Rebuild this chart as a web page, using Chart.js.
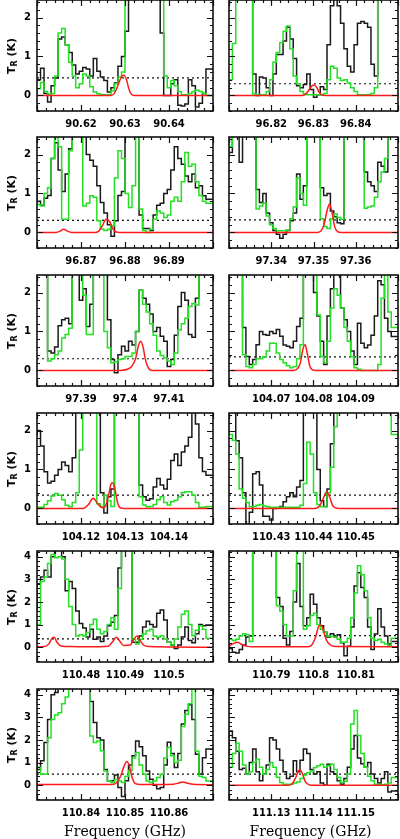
<!DOCTYPE html>
<html>
<head>
<meta charset="utf-8">
<script src="https://cdn.jsdelivr.net/npm/chart.js@4.4.1/dist/chart.umd.min.js"></script>
<style>
  *{box-sizing:border-box;margin:0;padding:0}
  body{background:#fff;width:400px;height:839px;overflow:hidden}
  #wrap{position:relative;width:400px;height:839px;overflow:hidden}
  canvas{position:absolute}
  .ytitle{position:absolute;left:12px;transform:translate(-50%,-50%) rotate(-90deg);white-space:nowrap;font:bold 11px "DejaVu Sans",sans-serif;color:#000}
  .ytitle sub{font-size:8px;vertical-align:-2px}
  .xtitle{position:absolute;top:831px;transform:translate(-50%,-50%);white-space:nowrap;font:14px "DejaVu Serif",serif;color:#000}
</style>
</head>
<body>
<div id="wrap"></div>
<script>
// panel frequency windows (GHz), 0.04 GHz wide each, and tick labels
const freqStart = [90.61, 96.81, 96.86, 97.33, 97.38, 104.06, 104.11, 110.42, 110.47, 110.78, 110.83, 111.12];
const xTicks = [
  [90.62, 90.63, 90.64], [96.82, 96.83, 96.84], [96.87, 96.88, 96.89], [97.34, 97.35, 97.36],
  [97.39, 97.4, 97.41], [104.07, 104.08, 104.09], [104.12, 104.13, 104.14], [110.43, 110.44, 110.45],
  [110.48, 110.49, 110.5], [110.79, 110.8, 110.81], [110.84, 110.85, 110.86], [111.13, 111.14, 111.15]
];
const yTicksLow = [0, 1, 2];
const yTicksHigh = [0, 1, 2, 3, 4];
const rmsLevel = [0.45, 0.3, 0.31, 0.32, 0.3, 0.35, 0.34, 0.34, 0.37, 0.51, 0.49, 0.49];
const span = 0.04;
const nChan = 50;

// observed (black) and comparison (green) spectra, one value per channel; red = model
const black1 = [0.35,0.4,0.7,0.05,-0.17,0.25,0.45,1.45,1.5,1.3, 1.1,0.78,0.55,0.62,0.72,0.68,0.5,0.95,0.62,0.47, 0.38,0.09,0.2,0.32,0.75,1.0,1.65,5,5,5, 5,5,5,5,5,5,1.6,0.0,0.0,0.3, 0.4,-0.25,-0.27,-0.22,0.4,0.25,-0.3,-0.2,0.05,0.68];
const green1 = [0.1,0.17,0.33,0.1,0.03,0.05,0.5,1.6,1.72,1.3, 0.85,0.5,0.2,0.3,0.55,0.5,0.22,0.09,0.04,0.02, 0.02,0.02,0.12,0.3,0.47,0.6,5,5,5,5, 5,5,5,5,5,5,5,0.5,0.2,0.38, 0.25,0.1,0.02,0.02,0.05,0.1,0.13,0.1,0.05,0.0];
const red1 = [[90.61,0],[90.6268,0],[90.6275,0.04],[90.6281,0.17],[90.6287,0.35],[90.6293,0.5],[90.6298,0.52],[90.6304,0.38],[90.6308,0.2],[90.6313,0.05],[90.632,0],[90.65,0]];

const black2 = [5,5,5,5,5,5,5,5,0.55,0.0, 0.47,0.45,0.2,0.0,0.55,1.05,1.05,1.4,1.75,1.45, 0.95,0.25,0.2,0.28,0.55,0.15,-0.05,0.02,0.22,0.15, 1.3,2.3,2.6,2.3,1.85,1.2,0.75,0.6,1.3,1.85, 1.9,1.85,1.75,0.8,0.5,5,5,5,5,5];
const green2 = [0.05,0.4,1.33,5,5,5,5,5,0.04,0.02, 0.02,0.02,0.1,0.4,0.85,1.1,1.35,1.65,1.78,1.2, 0.5,0.3,0.1,0.04,0.02,0.02,0.02,0.02,0.02,0.05, 0.4,0.75,0.7,0.45,0.38,0.4,0.32,0.2,0.1,0.02, 0.02,0.02,0.02,0.05,0.2,5,5,5,5,5];
const red2 = [[96.81,0],[96.8274,0],[96.8282,0.04],[96.829,0.15],[96.8297,0.25],[96.8302,0.27],[96.8308,0.2],[96.8314,0.07],[96.832,0.01],[96.8326,0],[96.85,0]];

const black3 = [1.3,0.8,0.7,0.88,0.95,1.9,2.3,1.6,1.05,1.5, 2.15,5,5,5,5,2.0,1.85,1.7,1.2,0.77, 0.5,0.2,-0.1,0.3,0.95,1.05,5,5,5,5, 0.45,0.1,0.1,0.05,0.45,0.7,0.75,1.0,1.1,1.6, 2.2,1.9,1.75,1.45,1.3,1.5,1.15,1.2,0.94,0.85];
const green3 = [1.0,0.72,0.68,1.0,1.15,1.9,5,2.2,0.34,0.34, 2.1,5,5,5,0.68,0.75,0.94,0.9,0.3,0.09, 0.05,0.08,0.17,1.4,2.1,1.9,1.0,0.64,1.2,5, 0.6,0.05,0.0,0.08,0.34,0.55,0.5,0.38,0.45,0.8, 0.9,0.8,1.3,2.05,1.7,1.75,1.3,0.95,0.8,0.75];
const red3 = [[96.86,0],[96.8643,0],[96.8652,0.03],[96.866,0.08],[96.8668,0.04],[96.8678,0],[96.8733,0],[96.8741,0.04],[96.8749,0.18],[96.8757,0.34],[96.8765,0.28],[96.8772,0.1],[96.878,0.01],[96.8788,0],[96.9,0]];

const black4 = [1.95,2.05,5,5,1.8,5,5,5,5,1.1, 0.77,1.0,0.5,0.25,0.05,-0.05,-0.15,-0.05,0.05,0.3, 0.5,1.5,0.85,1.2,5,5,5,5,1.15,0.95, 1.0,0.55,0.4,0.25,0.22,5,5,5,5,5, 5,1.55,1.3,1.2,1.05,1.8,1.7,1.55,5,5];
const green4 = [1.9,2.2,5,5,5,5,5,5,5,0.6, 0.68,0.75,0.42,0.2,0.1,0.04,0.04,0.04,0.06,0.35, 0.65,1.4,1.0,0.7,5,5,5,5,0.35,0.15, 0.1,0.35,0.47,0.38,0.34,5,5,5,5,5, 5,0.62,0.65,0.68,0.9,1.3,1.55,1.9,5,5];
const red4 = [[97.33,0],[97.3508,0],[97.3517,0.03],[97.3525,0.2],[97.3533,0.6],[97.3538,0.73],[97.3544,0.5],[97.355,0.15],[97.3557,0.02],[97.3566,0],[97.37,0]];

const black5 = [5,5,5,5,0.5,0.45,0.6,1.15,1.3,1.34, 1.2,5,5,1.8,2.1,1.13,1.7,5,5,5, 5,1.3,0.28,-0.06,0.4,0.62,0.5,0.75,0.65,1.0, 2.06,1.85,1.7,1.45,1.0,1.1,0.88,0.75,0.1,0.28, 0.9,1.64,2.0,1.8,0.92,0.85,1.85,5,5,5];
const green5 = [1.85,5,5,5,0.24,0.3,0.4,0.5,0.83,0.92, 1.08,5,5,5,1.93,0.92,0.92,5,5,5, 1.0,0.58,0.2,0.22,0.28,0.3,0.36,0.36,0.45,1.0, 2.06,1.7,1.5,1.2,0.9,0.5,0.38,0.32,0.24,0.15, 0.45,1.04,1.2,1.34,1.64,1.72,1.68,5,5,5];
const red5 = [[97.38,0],[97.399,0],[97.4005,0.03],[97.4015,0.1],[97.4024,0.3],[97.4031,0.65],[97.4036,0.75],[97.4041,0.6],[97.4047,0.25],[97.4054,0.05],[97.4062,0],[97.42,0]];

const black6 = [5,5,5,5,5,1.1,0.36,0.15,0.28,0.66, 1.0,0.92,0.9,1.0,0.95,1.05,0.88,0.65,0.62,0.58, 0.75,1.13,1.34,5,5,5,2.0,1.4,0.75,0.15, 1.4,2.1,5,5,1.6,1.3,1.0,0.5,0.15,1.21, 0.7,0.58,0.65,0.9,1.4,2.3,2.2,1.34,1.0,0.87];
const green6 = [5,5,5,5,5,0.4,0.1,0.07,0.15,0.3, 0.3,0.35,0.5,0.7,0.7,0.45,0.28,0.2,0.12,0.07, 0.1,0.3,0.66,5,5,5,5,1.42,0.36,0.2, 0.75,1.6,2.1,1.93,1.6,1.1,0.75,0.35,0.07,0.03, 0,0,0,0,0,0.15,1.85,5,1.5,1.1];
const red6 = [[104.06,0],[104.0752,0],[104.0762,0.04],[104.0769,0.2],[104.0775,0.55],[104.078,0.66],[104.0785,0.45],[104.0791,0.12],[104.0798,0.01],[104.0806,0],[104.1,0]];

const black7 = [1.87,2.0,1.6,0.94,0.65,0.7,0.85,1.0,1.19,1.1, 0.94,1.3,5,5,5,5,5,5,5,0.4, -0.12,0.3,0.5,5,5,5,5,5,5,5, 0.6,0.3,0.21,0.25,0.55,0.77,0.6,0.5,0.75,1.23, 1.4,1.1,1.45,1.6,1.83,5,2.17,1.3,0.95,0.85];
const green7 = [0.03,0.03,0.03,0.1,0.2,0.32,0.38,0.34,0.22,0.08, 0.04,0.15,0.4,1.5,5,5,5,5,0.12,0.05, 0.34,0.2,0.05,5,5,5,5,5,5,5, 0.3,0.09,0.04,0.05,0.1,0.22,0.3,0.15,0.09,0.17, 0.21,0.3,0.4,0.43,0.43,0.34,0.15,0.03,0.03,0.05];
const red7 = [[104.11,0],[104.1205,0],[104.1217,0.1],[104.1228,0.26],[104.1238,0.12],[104.1248,0.02],[104.1255,0.05],[104.1262,0.3],[104.1268,0.62],[104.1272,0.66],[104.1277,0.5],[104.1283,0.15],[104.129,0.01],[104.1298,0],[104.15,0]];

const black8 = [5,5,5,1.74,1.3,0.4,-0.45,-0.1,0.89,0.94, 0.6,-0.2,-0.2,-0.3,0.0,0.02,0.05,0.17,0.3,0.4, 0.3,0.55,0.72,5,5,5,5,1.0,0.2,0.05, 0.5,1.66,5,5,5,5,5,5,5,5, 5,5,5,5,5,5,5,5,5,5];
const green8 = [5,1.9,1.75,1.4,0.5,0.26,0.15,0.04,0.05,0.08, 0.1,0.06,0.04,0.03,0.03,0.03,0.03,0.03,0.03,0.03, 0.03,0.03,0.08,0.64,1.7,1.4,0.4,0.1,0.04,0.04, 0.4,1.06,2.1,5,5,5,5,5,5,5, 5,5,5,5,5,5,5,5,5,1.9];
const red8 = [[110.42,0],[110.4404,0],[110.4414,0.06],[110.4423,0.25],[110.4431,0.43],[110.4438,0.3],[110.4445,0.08],[110.4453,0.01],[110.446,0],[110.46,0]];

const black9 = [1.6,2.8,3.1,3.4,3.1,4.0,5,5,4.0,2.5, 2.9,2.6,1.6,1.05,0.85,0.45,0.8,0.35,0.45,0.25, 0.5,0.95,1.1,1.4,3.5,5,5,5,0.22,0.22, 0.5,0.9,1.15,1.0,0.9,1.5,1.65,1.2,0.22,0.1, -0.05,0.1,0.45,0.9,0.3,0.2,0.6,1.0,0.95,0.98];
const green9 = [0.8,1.0,2.9,3.1,3.7,4.1,3.95,4.0,3.9,3.0, 1.8,1.0,0.5,0.55,0.5,0.65,1.0,1.24,0.8,0.6, 0.7,1.0,1.3,0.8,2.6,5,5,5,0.35,0.15, 0.35,0.59,0.73,0.8,0.5,0.44,0.51,0.37,0.22,0.1, 0.37,0.9,1.46,1.6,1.0,0.51,0.75,0.95,0.8,0.4];
const red9 = [[110.47,0.02],[110.4718,0.03],[110.4727,0.15],[110.4735,0.42],[110.4739,0.44],[110.4746,0.2],[110.4755,0.06],[110.4775,0.03],[110.482,0.02],[110.4862,0.05],[110.4872,0.25],[110.488,0.44],[110.4887,0.3],[110.4897,0.08],[110.4912,0.1],[110.492,0.35],[110.4927,0.5],[110.4933,0.35],[110.4942,0.1],[110.4955,0.03],[110.51,0]];

const black10 = [0.2,-0.05,-0.22,-0.25,-0.1,0.1,0.45,0.5,5,5, 5,5,5,5,5,2.2,1.8,0.4,0.1,0.7, 2.0,3.7,1.8,0.95,1.3,2.34,1.9,1.3,0.95,0.66, 0.45,0.6,0.45,0.55,0.2,-0.37,0.05,0.9,2.7,3.29, 2.64,2.2,0.9,-0.1,0.59,1.7,0.9,0.5,0.15,0.25];
const green10 = [0.9,0.35,0.3,0.35,0.5,0.6,0.55,0.25,5,5, 5,5,5,5,5,1.83,1.6,1.0,0.5,0.5, 2.5,5,5,0.8,0.95,1.4,1.5,1.0,0.8,0.66, 0.5,0.48,0.45,0.35,0.22,0.22,0.4,1.3,2.4,3.6, 3.2,2.5,1.3,0.4,0.3,0.35,0.22,0.15,0.07,0.4];
const red10 = [[110.78,0.05],[110.7809,0.15],[110.782,0.22],[110.7831,0.12],[110.7843,0.04],[110.7855,0.02],[110.7985,0.02],[110.7995,0.08],[110.8005,0.45],[110.8013,0.95],[110.8018,0.98],[110.8024,0.7],[110.8031,0.3],[110.804,0.1],[110.8052,0.03],[110.82,0.02]];

const black11 = [1.3,0.7,1.08,1.89,2.9,4.0,4.1,5,5,5, 5,5,5,5,5,5,3.7,2.77,2.1,2.0, 0.7,0.2,0.2,0.45,-0.1,-0.5,0.2,0.9,1.3,1.96, 1.7,1.3,0.63,0.27,0.0,-0.15,-0.1,0.9,1.9,1.4, 0.78,1.4,2.7,3.3,3.55,2.9,1.37,0.5,1.22,1.6];
const green11 = [0.86,0.8,0.49,0.5,2.1,2.9,3.1,3.2,3.6,3.9, 5,5,5,5,5,5,2.18,1.89,1.95,1.52, 0.63,0.2,0.12,0.25,0.19,0.12,0.4,0.65,1.2,1.45, 0.9,0.5,0.19,0.12,0.19,0.34,0.49,1.2,1.67,1.3, 1.0,1.1,2.6,3.14,3.6,5,1.5,0.4,0.34,0.19];
const red11 = [[110.83,0.03],[110.847,0.03],[110.848,0.1],[110.849,0.4],[110.8498,0.85],[110.8504,1.05],[110.851,0.85],[110.8516,0.35],[110.8523,0.08],[110.8535,0.03],[110.861,0.05],[110.8622,0.1],[110.8631,0.15],[110.864,0.1],[110.8655,0.04],[110.87,0.02]];

const black12 = [1.3,2.4,2.1,1.5,0.7,0.75,0.5,1.0,1.6,0.6, 0.2,0.5,0.9,2.1,2.0,1.6,1.1,0.6,0.3,0.4, 1.08,0.6,1.1,1.6,1.4,0.7,0.5,0.6,0.1,0.0, 0.93,0.6,0.5,0.2,0.05,0.3,0.8,1.6,2.2,1.2, 0.95,0.8,1.0,0.5,0.3,0.1,0.3,0.6,-0.3,-0.25];
const green12 = [0.34,0.8,1.4,1.85,1.5,0.9,0.49,0.6,1.0,1.15, 0.8,0.49,0.7,1.0,0.8,0.35,0.12,0.05,0.05,0.05, 0.1,0.15,0.3,0.45,0.55,0.62,0.78,0.86,0.93,0.8, 0.86,0.93,0.7,0.34,0.12,0.18,0.5,2.7,3.3,2.2, 1.4,0.8,0.4,0.2,0.05,0.03,0.02,0.05,0.1,0.34];
const red12 = [[111.12,0],[111.134,0],[111.135,0.08],[111.1358,0.35],[111.1364,0.62],[111.1368,0.68],[111.1374,0.5],[111.1381,0.15],[111.139,0.02],[111.1398,0],[111.16,0]];

const blacks = [black1, black2, black3, black4, black5, black6, black7, black8, black9, black10, black11, black12];
const greens = [green1, green2, green3, green4, green5, green6, green7, green8, green9, green10, green11, green12];
const reds = [red1, red2, red3, red4, red5, red6, red7, red8, red9, red10, red11, red12];

// layout
const colLeft = [37, 223], colWidth = [176, 175];
const rowTop = [0, 137, 275, 413, 551, 689];
const plotH = 111, padTop = 3, axisH = 24;

// histogram: one point per channel edge plus the closing edge
function histo(vals, f0) {
  const w = span / nChan;
  const pts = vals.map((v, i) => ({ x: f0 + i * w, y: v }));
  pts.push({ x: f0 + span, y: vals[vals.length - 1] });
  return pts;
}

// box with inward ticks on all four sides
const framePlugin = {
  id: 'frame',
  afterDraw(chart) {
    const { ctx, chartArea: a, scales: { x, y } } = chart;
    ctx.save();
    ctx.strokeStyle = '#111';
    ctx.lineWidth = 1.2;
    ctx.beginPath();
    for (let k = Math.ceil(x.min / 0.002 - 1e-6); k <= Math.floor(x.max / 0.002 + 1e-6); k++) {
      const px = Math.round(x.getPixelForValue(k * 0.002)) + 0.5;
      const len = k % 5 === 0 ? 6 : 3;
      ctx.moveTo(px, a.bottom); ctx.lineTo(px, a.bottom - len);
      ctx.moveTo(px, a.top); ctx.lineTo(px, a.top + len);
    }
    for (let k = Math.ceil(y.min / 0.2 - 1e-6); k <= Math.floor(y.max / 0.2 + 1e-6); k++) {
      const py = Math.round(y.getPixelForValue(k * 0.2)) + 0.5;
      const len = k % 5 === 0 ? 6 : 3;
      ctx.moveTo(a.left, py); ctx.lineTo(a.left + len, py);
      ctx.moveTo(a.right, py); ctx.lineTo(a.right - len, py);
    }
    ctx.stroke();
    ctx.lineWidth = 1.6;
    ctx.strokeRect(a.left, a.top, a.right - a.left, a.bottom - a.top);
    ctx.restore();
  }
};

const tickFont = { family: '"DejaVu Sans", sans-serif', size: 10, weight: 'bold' };
const wrap = document.getElementById('wrap');

for (let p = 0; p < 12; p++) {
  const row = Math.floor(p / 2), col = p % 2;
  const f0 = freqStart[p];
  const high = row >= 4;
  const yMin = high ? -0.65 : -0.4, yMax = high ? 4.25 : 2.45;
  const yt = high ? yTicksHigh : yTicksLow;
  const leftM = col === 0 ? colLeft[0] : 6;
  const rightM = col === 0 ? 3 : 2;

  const cv = document.createElement('canvas');
  cv.width = leftM + colWidth[col] + rightM;
  cv.height = padTop + plotH + axisH;
  cv.style.left = (colLeft[col] - leftM) + 'px';
  cv.style.top = (rowTop[row] - padTop) + 'px';
  wrap.appendChild(cv);

  if (col === 0) {
    const t = document.createElement('div');
    t.className = 'ytitle';
    t.style.top = (rowTop[row] + plotH / 2) + 'px';
    t.innerHTML = 'T<sub>R</sub> (K)';
    wrap.appendChild(t);
  }

  new Chart(cv, {
    type: 'line',
    data: {
      datasets: [
        { data: reds[p].map(([x, y]) => ({ x, y })), borderColor: '#ff1a1a', borderWidth: 1.5, cubicInterpolationMode: 'monotone', order: 0 },
        { data: histo(greens[p], f0), borderColor: '#22e022', borderWidth: 1.5, stepped: 'after', order: 1 },
        { data: histo(blacks[p], f0), borderColor: '#1a1a1a', borderWidth: 1.5, stepped: 'after', order: 2 },
        { data: [{ x: f0, y: rmsLevel[p] }, { x: f0 + span, y: rmsLevel[p] }], borderColor: '#111', borderWidth: 1.2, borderDash: [2, 3], order: 3 }
      ]
    },
    options: {
      responsive: false,
      animation: false,
      devicePixelRatio: 1,
      events: [],
      layout: { padding: { top: padTop, right: rightM, bottom: 0, left: col === 0 ? 0 : leftM } },
      elements: { point: { radius: 0 }, line: { tension: 0, fill: false } },
      plugins: { legend: { display: false }, tooltip: { enabled: false } },
      scales: {
        x: {
          type: 'linear', min: f0, max: f0 + span,
          grid: { display: false, drawTicks: false }, border: { display: false },
          afterBuildTicks: s => { s.ticks = xTicks[p].map(v => ({ value: v })); },
          afterFit: s => { s.height = axisH; s.paddingLeft = 0; s.paddingRight = 0; },
          ticks: { autoSkip: false, maxRotation: 0, padding: 7, color: '#000', font: tickFont, callback: v => String(+v.toFixed(2)) }
        },
        y: {
          display: col === 0, min: yMin, max: yMax,
          grid: { display: false, drawTicks: false }, border: { display: false },
          afterBuildTicks: s => { s.ticks = yt.map(v => ({ value: v })); },
          afterFit: s => { s.width = leftM; s.paddingTop = 0; s.paddingBottom = 0; },
          ticks: { padding: 6, color: '#000', font: tickFont, callback: v => String(v) }
        }
      }
    },
    plugins: [framePlugin]
  });
}

[colLeft[0] + colWidth[0] / 2, colLeft[1] + colWidth[1] / 2].forEach(cx => {
  const t = document.createElement('div');
  t.className = 'xtitle';
  t.style.left = cx + 'px';
  t.textContent = 'Frequency (GHz)';
  wrap.appendChild(t);
});
</script>
</body>
</html>
